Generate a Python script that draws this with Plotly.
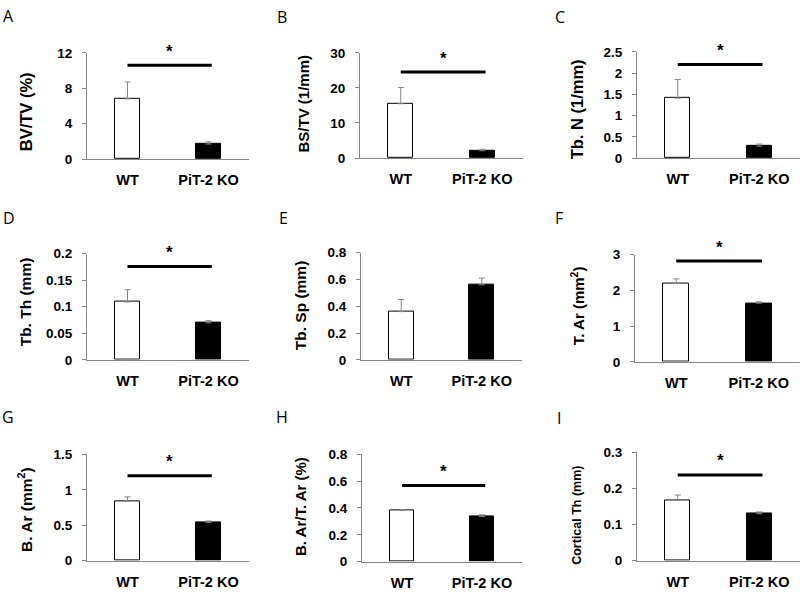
import plotly.graph_objects as go

# ---------------- data ----------------
categories = ["WT", "PiT-2 KO"]
panel_letters = ["A", "B", "C", "D", "E", "F", "G", "H", "I"]
y_titles = ["BV/TV (%)", "BS/TV (1/mm)", "Tb. N (1/mm)",
            "Tb. Th (mm)", "Tb. Sp (mm)", "T. Ar (mm<sup>2</sup>)",
            "B. Ar (mm<sup>2</sup>)", "B. Ar/T. Ar (%)", "Cortical Th (mm)"]
wt_mean = [6.8, 15.5, 1.41, 0.109, 0.36, 2.19, 0.84, 0.381, 0.167]
wt_err = [1.9, 4.6, 0.44, 0.023, 0.09, 0.13, 0.06, 0.007, 0.015]
ko_mean = [1.7, 2.1, 0.28, 0.0697, 0.56, 1.64, 0.54, 0.337, 0.13]
ko_err = [0.25, 0.4, 0.05, 0.004, 0.05, 0.04, 0.02, 0.012, 0.005]
y_max = [12, 30, 2.5, 0.2, 0.8, 3, 1.5, 0.8, 0.3]
y_dtick = [4, 10, 0.5, 0.05, 0.2, 1, 0.5, 0.2, 0.1]
sig_level = [10.6, 24.5, 2.2, 0.1755, None, 2.82, 1.2, 0.568, 0.2376]

# ---------------- layout geometry / styles (pixels in 800x593 page) ----------------
W, H = 800, 593
# (axis left, axis right, zero line y, top tick y)
boxes = [(87, 249, 156, 47), (360, 523, 155, 47), (637, 800, 155, 46),
         (87, 249, 362, 253), (361, 522, 362, 252), (635, 800, 364, 254),
         (87, 249, 568, 459), (362, 522, 569, 459), (637, 800, 568, 457)]
title_pos = [(26, 108), (303, 99), (577, 105), (25, 303), (300, 306),
             (577, 307), (25, 516), (300, 513), (577, 522)]
title_size = [16.5, 15, 16.5, 15.5, 15.5, 15, 15.5, 15, 12.5]
letter_pos = [(8, 9), (282, 10), (560, 10), (9, 216), (283, 216), (559, 216),
              (8, 421), (282, 421), (559, 422)]

px = lambda x: x / W
py = lambda y: 1 - y / H

AX_GRAY = "#868686"
FONT = "Liberation Sans, Arial, sans-serif"

fig = go.Figure()
shapes = []
annotations = []

for i in range(9):
    n = "" if i == 0 else str(i + 1)
    xa, ya = "x" + n, "y" + n
    x0, x1, yz, yt = boxes[i]
    fig.add_trace(go.Bar(
        x=[0, 1], y=[wt_mean[i], ko_mean[i]],
        width=0.31,
        marker=dict(color=["white", "black"], line=dict(color="black", width=1)),
        error_y=dict(type="data", symmetric=False,
                     array=[wt_err[i], ko_err[i]], arrayminus=[0, 0],
                     color=AX_GRAY, thickness=1, width=3),
        xaxis=xa, yaxis=ya, showlegend=False, hoverinfo="skip"))
    fig.update_layout({
        "xaxis" + n: dict(domain=[px(x0), min(px(x1), 1.0)], anchor=ya,
                          range=[-0.5, 1.5], tickmode="array",
                          tickvals=[0, 1], ticktext=categories,
                          showline=True, linecolor=AX_GRAY, linewidth=1,
                          ticks="", showgrid=False, zeroline=False,
                          ticklabelstandoff=8,
                          tickfont=dict(family=FONT, size=14.5, color="black",
                                        weight="bold"),
                          fixedrange=True),
        "yaxis" + n: dict(domain=[py(yz), py(yt)], anchor=xa,
                          range=[0, y_max[i]], dtick=y_dtick[i], tick0=0,
                          showline=True, linecolor=AX_GRAY, linewidth=1,
                          ticks="outside", ticklen=4, tickcolor=AX_GRAY,
                          showgrid=False, zeroline=False,
                          ticklabelstandoff=7,
                          tickfont=dict(family=FONT, size=13.5, color="black",
                                        weight="bold"),
                          fixedrange=True),
    })
    # axis title
    tx, ty = title_pos[i]
    annotations.append(dict(
        text=y_titles[i], x=px(tx), y=py(ty),
        xref="paper", yref="paper", textangle=-90, showarrow=False,
        xanchor="center", yanchor="middle",
        font=dict(family=FONT, size=title_size[i], color="black",
                  weight="bold")))
    # panel letter
    lx, ly = letter_pos[i]
    annotations.append(dict(
        text=panel_letters[i], x=px(lx), y=py(ly), xref="paper", yref="paper",
        showarrow=False, xanchor="center", yanchor="middle",
        font=dict(family="Open Sans, Noto Sans, sans-serif", size=16,
                  color="black")))
    # significance bar
    if sig_level[i] is not None:
        shapes.append(dict(type="line", xref=xa, yref=ya, x0=0, x1=1.04,
                           y0=sig_level[i], y1=sig_level[i],
                           line=dict(color="black", width=3)))
        annotations.append(dict(
            text="*", x=0.52, y=sig_level[i], xref=xa, yref=ya,
            showarrow=False, xanchor="center", yanchor="middle", yshift=14,
            font=dict(family=FONT, size=17, color="black", weight="bold")))

fig.update_layout(
    width=W, height=H, margin=dict(l=0, r=0, t=0, b=0),
    paper_bgcolor="white", plot_bgcolor="white",
    shapes=shapes, annotations=annotations, bargap=0)

pin_script = (
    "document.documentElement.style.margin='0';"
    "document.body.style.margin='0';"
    "document.body.style.overflow='hidden';"
    "var gd=document.getElementById('{plot_id}');"
    "gd.style.position='fixed';gd.style.left='0px';gd.style.top='0px';"
)

fig.write_html("out.html", post_script=pin_script,
               config={"displayModeBar": False})
